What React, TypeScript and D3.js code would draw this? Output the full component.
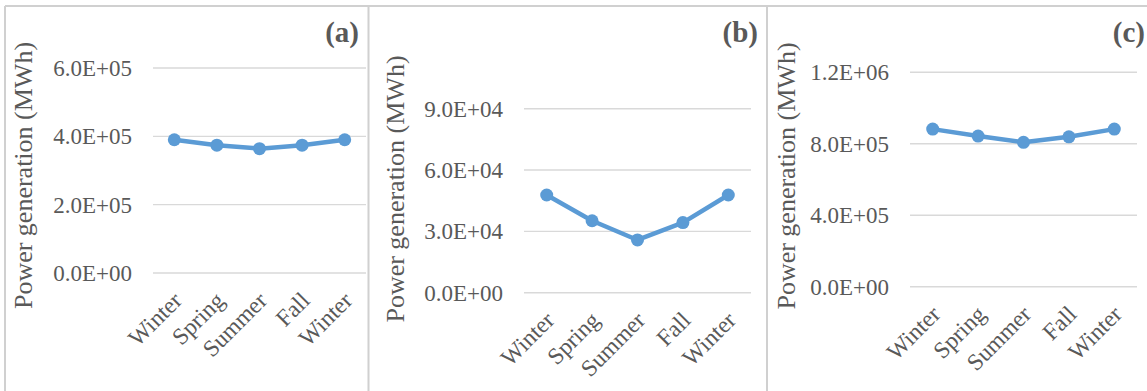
import React from "react";
import * as d3 from "d3";

// seasonal power generation (MWh)
const seasons = ["Winter", "Spring", "Summer", "Fall", "Winter"];
const genA = [3.9e5, 3.74e5, 3.64e5, 3.74e5, 3.9e5];
const genB = [4.78e4, 3.52e4, 2.58e4, 3.43e4, 4.78e4];
const genC = [8.82e5, 8.43e5, 8.08e5, 8.39e5, 8.82e5];
const ticksA = [0, 2e5, 4e5, 6e5];
const ticksB = [0, 3e4, 6e4, 9e4];
const ticksC = [0, 4e5, 8e5, 1.2e6];
const panelTags = ["(a)", "(b)", "(c)"];
const yTitle = "Power generation (MWh)";

// pixel layout of each panel
const layout = [
  { x0: 153, x1: 366, yBottom: 273, yTop: 68, titleX: 32, titleY: 175.5, tagX: 359 },
  { x0: 524, x1: 751, yBottom: 292.7, yTop: 108.7, titleX: 404, titleY: 189, tagX: 758 },
  { x0: 910, x1: 1137, yBottom: 286.7, yTop: 72.3, titleX: 795, titleY: 176, tagX: 1145 },
];

const series = [genA, genB, genC];
const tickSets = [ticksA, ticksB, ticksC];

const width = 1147;
const height = 391;
const font = "'Liberation Serif', 'Times New Roman', serif";
const textColor = "#595959";
const gridColor = "#d9d9d9";
const lineColor = "#5b9bd5";

// 6.0E+05 style labels
const sci = (v: number) => {
  const [m, e] = v.toExponential(1).split("e");
  const sign = e[0] === "-" ? "-" : "+";
  const digits = e.replace(/[+-]/, "").padStart(2, "0");
  return `${m}E${sign}${digits}`;
};

const Panel = ({ idx }: { idx: number }) => {
  const L = layout[idx];
  const values = series[idx];
  const ticks = tickSets[idx];

  const x = d3
    .scaleBand<number>()
    .domain(seasons.map((_, i) => i))
    .range([L.x0, L.x1]);
  const y = d3
    .scaleLinear()
    .domain([0, d3.max(ticks) as number])
    .range([L.yBottom, L.yTop]);

  const cx = (i: number) => (x(i) as number) + x.bandwidth() / 2;

  const line = d3
    .line<number>()
    .x((_, i) => cx(i))
    .y((d) => y(d));

  return (
    <g>
      {ticks.map((t) => (
        <g key={t}>
          <line x1={L.x0} x2={L.x1} y1={y(t)} y2={y(t)} stroke={gridColor} strokeWidth={1.4} />
          <text x={L.x0 - 21} y={y(t) + 8} textAnchor="end" fontSize={23} fill={textColor}>
            {sci(t)}
          </text>
        </g>
      ))}
      {seasons.map((s, i) => (
        <text
          key={i}
          transform={`translate(${cx(i) + 9},${L.yBottom + 29}) rotate(-45)`}
          textAnchor="end"
          fontSize={23.5}
          fill={textColor}
        >
          {s}
        </text>
      ))}
      <text
        transform={`translate(${L.titleX},${L.titleY}) rotate(-90)`}
        textAnchor="middle"
        fontSize={26}
        fill={textColor}
      >
        {yTitle}
      </text>
      <text x={L.tagX} y={42} textAnchor="end" fontSize={29} fontWeight="bold" fill={textColor}>
        {panelTags[idx]}
      </text>
      <path d={line(values) || ""} fill="none" stroke={lineColor} strokeWidth={4.5} strokeLinejoin="round" />
      {values.map((v, i) => (
        <circle key={i} cx={cx(i)} cy={y(v)} r={6.5} fill={lineColor} />
      ))}
    </g>
  );
};

const App = () => {
  return (
    <svg
      width={width}
      height={height}
      style={{ position: "absolute", left: 0, top: 0, background: "#fff" }}
      fontFamily={font}
    >
      <rect width={width} height={height} fill="#fff" />
      {/* panel frames */}
      <line x1={5} x2={width} y1={6} y2={6} stroke="#d0d0d0" strokeWidth={2} />
      {[5, 368.5, 767].map((bx) => (
        <line key={bx} x1={bx} x2={bx} y1={6} y2={height} stroke="#d0d0d0" strokeWidth={2} />
      ))}
      {panelTags.map((_, i) => (
        <Panel key={i} idx={i} />
      ))}
    </svg>
  );
};

export default App;
